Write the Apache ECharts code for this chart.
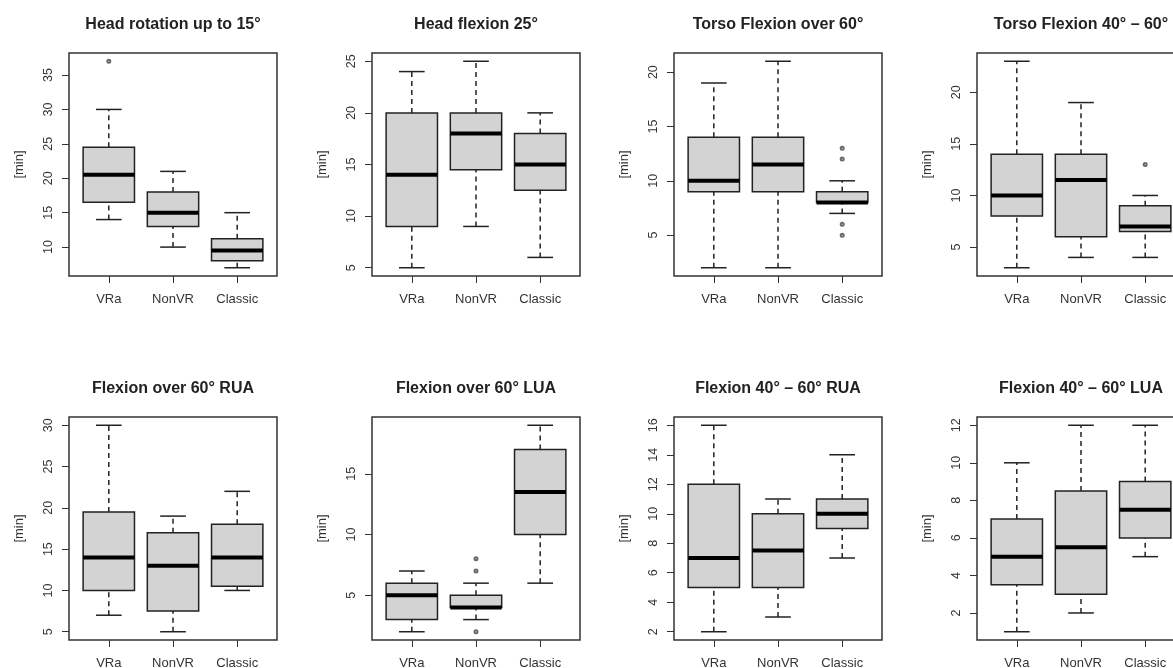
<!DOCTYPE html>
<html>
<head>
<meta charset="utf-8">
<title>Posture durations</title>
<script src="https://cdn.jsdelivr.net/npm/echarts@6.0.0/dist/echarts.min.js"></script>
<style>
  html, body { margin: 0; padding: 0; background: #fff; }
  #chart { width: 1173px; height: 668px; }
</style>
</head>
<body>
<div id="chart"></div>
<script>
// groups on the x axis
var categories = ['VRa', 'NonVR', 'Classic'];

var titles = [
  'Head rotation up to 15°', 'Head flexion 25°', 'Torso Flexion over 60°', 'Torso Flexion 40° – 60°',
  'Flexion over 60° RUA', 'Flexion over 60° LUA', 'Flexion 40° – 60° RUA', 'Flexion 40° – 60° LUA'
];

// per group: [lower whisker, Q1, median, Q3, upper whisker]
var headRotation = [[14, 16.5, 20.5, 24.5, 30], [10, 13, 15, 18, 21], [7, 8, 9.5, 11.2, 15]];
var headRotationOut = [[37], [], []];
var headRotationTicks = [10, 15, 20, 25, 30, 35];

var headFlexion = [[5, 9, 14, 20, 24], [9, 14.5, 18, 20, 25], [6, 12.5, 15, 18, 20]];
var headFlexionOut = [[], [], []];
var headFlexionTicks = [5, 10, 15, 20, 25];

var torsoOver60 = [[2, 9, 10, 14, 19], [2, 9, 11.5, 14, 21], [7, 8, 8, 9, 10]];
var torsoOver60Out = [[], [], [5, 6, 12, 13]];
var torsoOver60Ticks = [5, 10, 15, 20];

var torso4060 = [[3, 8, 10, 14, 23], [4, 6, 11.5, 14, 19], [4, 6.5, 7, 9, 10]];
var torso4060Out = [[], [], [13]];
var torso4060Ticks = [5, 10, 15, 20];

var ruaOver60 = [[7, 10, 14, 19.5, 30], [5, 7.5, 13, 17, 19], [10, 10.5, 14, 18, 22]];
var ruaOver60Out = [[], [], []];
var ruaOver60Ticks = [5, 10, 15, 20, 25, 30];

var luaOver60 = [[2, 3, 5, 6, 7], [3, 4, 4, 5, 6], [6, 10, 13.5, 17, 19]];
var luaOver60Out = [[], [2, 7, 8], []];
var luaOver60Ticks = [5, 10, 15];

var rua4060 = [[2, 5, 7, 12, 16], [3, 5, 7.5, 10, 11], [7, 9, 10, 11, 14]];
var rua4060Out = [[], [], []];
var rua4060Ticks = [2, 4, 6, 8, 10, 12, 14, 16];

var lua4060 = [[1, 3.5, 5, 7, 10], [2, 3, 5.5, 8.5, 12], [5, 6, 7.5, 9, 12]];
var lua4060Out = [[], [], []];
var lua4060Ticks = [2, 4, 6, 8, 10, 12];

var boxes = [headRotation, headFlexion, torsoOver60, torso4060, ruaOver60, luaOver60, rua4060, lua4060];
var outliers = [headRotationOut, headFlexionOut, torsoOver60Out, torso4060Out, ruaOver60Out, luaOver60Out, rua4060Out, lua4060Out];
var ticks = [headRotationTicks, headFlexionTicks, torsoOver60Ticks, torso4060Ticks, ruaOver60Ticks, luaOver60Ticks, rua4060Ticks, lua4060Ticks];

// panel frames
var lefts = [69, 372, 674, 977];
var tops = [53, 417];
var titleTops = [17, 381];
var W = 208, H = 223;
var font = '"Liberation Sans", Arial, sans-serif';

function renderBox(params, api) {
  var x = api.value(0);
  var p = [1, 2, 3, 4, 5].map(function (d) { return api.coord([x, api.value(d)]); });
  var cx = p[0][0];
  var half = api.size([0.4, 0])[0];
  var cap = half / 2;
  var dashed = { stroke: '#222', lineWidth: 1.5, lineDash: [5, 4] };
  var solid = { stroke: '#222', lineWidth: 1.5 };
  return {
    type: 'group',
    children: [
      { type: 'line', shape: { x1: cx, y1: p[0][1], x2: cx, y2: p[1][1] }, style: dashed },
      { type: 'line', shape: { x1: cx, y1: p[3][1], x2: cx, y2: p[4][1] }, style: dashed },
      { type: 'line', shape: { x1: cx - cap, y1: p[0][1], x2: cx + cap, y2: p[0][1] }, style: solid },
      { type: 'line', shape: { x1: cx - cap, y1: p[4][1], x2: cx + cap, y2: p[4][1] }, style: solid },
      { type: 'rect', shape: { x: cx - half, y: p[3][1], width: half * 2, height: p[1][1] - p[3][1] },
        style: { fill: '#d3d3d3', stroke: '#222', lineWidth: 1.5 } },
      { type: 'line', shape: { x1: cx - half, y1: p[2][1], x2: cx + half, y2: p[2][1] },
        style: { stroke: '#000', lineWidth: 4 } }
    ]
  };
}

var title = [], grid = [], xAxis = [], yAxis = [], series = [];

boxes.forEach(function (box, i) {
  var col = i % 4, row = Math.floor(i / 4);
  var all = [];
  box.forEach(function (b) { all = all.concat(b); });
  outliers[i].forEach(function (o) { all = all.concat(o); });
  var lo = Math.min.apply(null, all), hi = Math.max.apply(null, all);
  var pad = (hi - lo) * 0.04;

  title.push({
    text: titles[i],
    left: lefts[col] + W / 2,
    top: titleTops[row],
    textAlign: 'center',
    padding: 0,
    textStyle: { fontSize: 16, fontWeight: 'bold', color: '#222', fontFamily: font }
  });
  grid.push({
    left: lefts[col], top: tops[row], width: W, height: H,
    outerBoundsMode: 'none',
    show: true, borderColor: '#333', borderWidth: 1.5, backgroundColor: 'transparent'
  });
  xAxis.push({
    type: 'value', gridIndex: i, min: 0.38, max: 3.62,
    axisLine: { show: false },
    splitLine: { show: false },
    axisTick: { customValues: [1, 2, 3], length: 7, lineStyle: { color: '#333' } },
    axisLabel: {
      customValues: [1, 2, 3],
      formatter: function (v) { return categories[Math.round(v) - 1]; },
      margin: 17, fontSize: 13, color: '#333', fontFamily: font
    }
  });
  yAxis.push({
    type: 'value', gridIndex: i, min: lo - pad, max: hi + pad,
    name: '[min]', nameLocation: 'middle', nameRotate: 90, nameGap: 43,
    nameTextStyle: { fontSize: 13, color: '#333', fontFamily: font },
    axisLine: { show: false },
    splitLine: { show: false },
    axisTick: { customValues: ticks[i], length: 7, lineStyle: { color: '#333' } },
    axisLabel: { customValues: ticks[i], rotate: 90, margin: 14, fontSize: 12.5, color: '#333', fontFamily: font }
  });

  series.push({
    type: 'custom',
    xAxisIndex: i, yAxisIndex: i,
    renderItem: renderBox,
    encode: { x: 0, y: [1, 2, 3, 4, 5] },
    data: box.map(function (b, g) { return [g + 1].concat(b); })
  });

  var pts = [];
  outliers[i].forEach(function (o, g) {
    o.forEach(function (v) { pts.push([g + 1, v]); });
  });
  series.push({
    type: 'scatter',
    xAxisIndex: i, yAxisIndex: i,
    symbol: 'emptyCircle', symbolSize: 3,
    itemStyle: { color: '#444', borderWidth: 1 },
    data: pts
  });
});

var myChart = echarts.init(document.getElementById('chart'));
myChart.setOption({
  animation: false,
  backgroundColor: '#fff',
  title: title,
  grid: grid,
  xAxis: xAxis,
  yAxis: yAxis,
  series: series
});
</script>
</body>
</html>
